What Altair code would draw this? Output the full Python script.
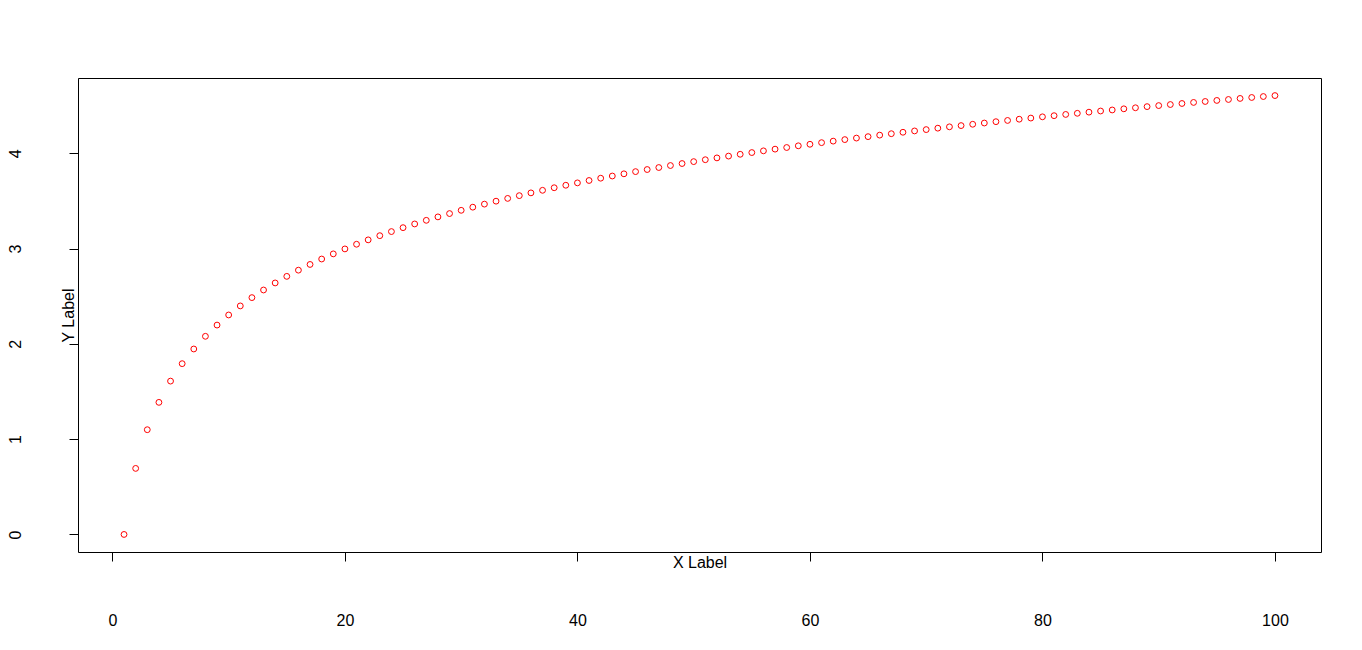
import altair as alt
import pandas as pd

x_vals = list(range(1, 101))
y_vals = [
    0.000, 0.693, 1.099, 1.386, 1.609, 1.792, 1.946, 2.079, 2.197, 2.303,
    2.398, 2.485, 2.565, 2.639, 2.708, 2.773, 2.833, 2.890, 2.944, 2.996,
    3.045, 3.091, 3.135, 3.178, 3.219, 3.258, 3.296, 3.332, 3.367, 3.401,
    3.434, 3.466, 3.497, 3.526, 3.555, 3.584, 3.611, 3.638, 3.664, 3.689,
    3.714, 3.738, 3.761, 3.784, 3.807, 3.829, 3.850, 3.871, 3.892, 3.912,
    3.932, 3.951, 3.970, 3.989, 4.007, 4.025, 4.043, 4.060, 4.078, 4.094,
    4.111, 4.127, 4.143, 4.159, 4.174, 4.190, 4.205, 4.220, 4.234, 4.248,
    4.263, 4.277, 4.290, 4.304, 4.317, 4.331, 4.344, 4.357, 4.369, 4.382,
    4.394, 4.407, 4.419, 4.431, 4.443, 4.454, 4.466, 4.477, 4.489, 4.500,
    4.511, 4.522, 4.533, 4.543, 4.554, 4.564, 4.575, 4.585, 4.595, 4.605,
]
x_ticks = [0, 20, 40, 60, 80, 100]
y_ticks = [0, 1, 2, 3, 4]

df = pd.DataFrame({"x": x_vals, "y": y_vals})

W, H = 1243, 474
FONT = "Liberation Sans"

chart = alt.Chart(df).mark_point(
    shape="circle", filled=False, color="#FF0000", size=34, strokeWidth=1, opacity=1
).encode(
    x=alt.X("x:Q", scale=alt.Scale(domain=[-2.96, 103.96], nice=False, zero=False),
            axis=alt.Axis(values=x_ticks, title="X Label", domain=False, grid=False,
                          tickSize=9, tickColor="black", labelPadding=59,
                          labelBaseline="middle", labelFontSize=16, labelFont=FONT,
                          labelColor="black", titleFont=FONT, titleFontSize=16,
                          titleFontWeight="normal", titleColor="black",
                          titleX=W / 2, titleY=10, titleBaseline="middle",
                          titleAlign="center", labelFlush=False)),
    y=alt.Y("y:Q", scale=alt.Scale(domain=[-0.1842, 4.7894], nice=False, zero=False),
            axis=alt.Axis(values=y_ticks, title="Y Label", domain=False, grid=False,
                          tickSize=9, tickColor="black", labelPadding=54,
                          labelAngle=270, labelAlign="center", labelBaseline="middle",
                          labelFontSize=16, labelFont=FONT, labelColor="black",
                          titleFont=FONT, titleFontSize=16, titleFontWeight="normal",
                          titleColor="black", titleAngle=270, titleX=-9.5, titleY=H / 2,
                          titleAlign="center", titleBaseline="middle", labelFlush=False)),
).properties(
    width=W, height=H,
    autosize=alt.AutoSizeParams(type="none"),
    padding={"left": 70, "top": 70, "right": 33, "bottom": 90},
    background="white",
).configure_view(stroke="black", strokeWidth=1)

chart.save("out.html", embed_options={"renderer": "svg", "actions": False})
